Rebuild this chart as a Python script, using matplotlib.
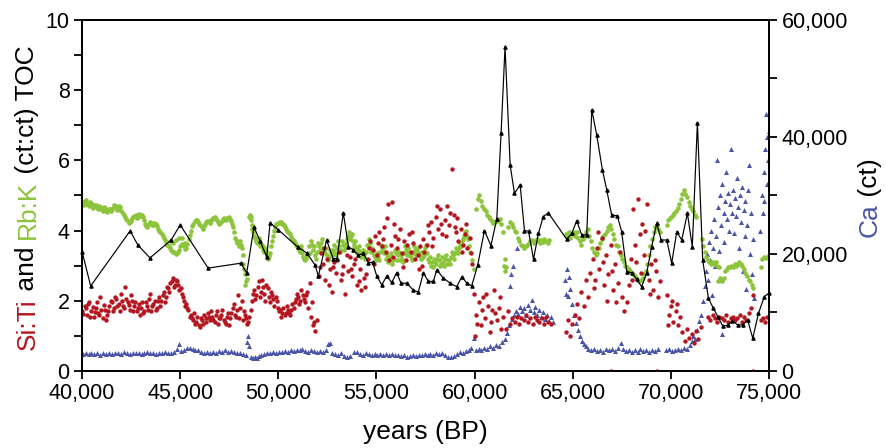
import matplotlib
matplotlib.use('Agg')
import matplotlib.pyplot as plt
from matplotlib.ticker import MultipleLocator, StrMethodFormatter

plt.rcParams['font.family'] = ['Liberation Sans', 'DejaVu Sans']

RED = '#b3161f'
GREEN = '#8cc43c'
BLUE = '#4a55a8'

# TOC (%), black line
toc = [(40000, 3.40), (40440, 2.42), (42450, 3.99), (42840, 3.59), (43460, 3.22), (44540, 3.73),
       (45000, 4.16), (46420, 2.93), (48090, 3.07), (48390, 2.79), (48760, 4.10), (49070, 3.70),
       (49410, 3.25), (49580, 4.22), (50000, 4.02), (50990, 3.53), (51450, 3.36), (51870, 3.02),
       (52040, 2.70), (52460, 3.73), (52790, 3.20), (52990, 3.20), (53310, 4.51), (53570, 3.54),
       (53820, 3.45), (54080, 3.30), (54330, 3.35), (54590, 3.08), (54800, 3.10), (55010, 2.71),
       (55270, 2.45), (55520, 2.70), (55780, 2.52), (56030, 2.80), (56250, 2.50), (56540, 2.50),
       (56880, 2.30), (57130, 2.25), (57390, 2.79), (57650, 2.55), (57900, 2.55), (58070, 2.88),
       (58400, 2.65), (58750, 2.50), (59090, 2.40), (59350, 2.69), (59600, 2.50), (59850, 2.42),
       (60160, 3.02), (60500, 4.00), (60830, 3.57), (61130, 4.33), (61350, 6.79), (61550, 9.24),
       (61810, 5.87), (62030, 5.06), (62320, 5.30), (62540, 4.00), (62750, 3.98), (63000, 3.18),
       (63250, 3.92), (63500, 4.40), (63760, 4.50), (64690, 3.75), (64950, 3.92), (65200, 4.28),
       (65460, 3.87), (65710, 3.88), (65970, 7.44), (66220, 6.72), (66510, 5.73), (66730, 5.16),
       (66980, 4.44), (67270, 4.42), (67490, 3.97), (67750, 2.83), (68000, 2.80), (68260, 2.61),
       (68510, 2.40), (68770, 2.80), (69020, 3.54), (69280, 4.21), (69500, 3.73), (69790, 3.73),
       (70040, 3.07), (70300, 3.97), (70550, 3.73), (70840, 4.49), (71090, 3.54), (71350, 7.07),
       (71620, 3.16), (71910, 2.07), (72160, 1.79), (72390, 1.55), (72640, 1.28), (72890, 1.30),
       (73130, 1.43), (73400, 1.31), (73650, 1.31), (73910, 1.45), (74170, 0.93), (74460, 1.64),
       (74760, 2.12), (75000, 2.22)]

# Si:Ti (ct:ct), red dots
siti = [(40020, 1.72), (40130, 1.85), (40250, 1.60), (40360, 1.95), (40480, 1.70), (40590, 1.55),
        (40700, 1.80), (40820, 1.65), (40930, 2.10), (41050, 1.50), (41160, 1.75), (41280, 1.60),
        (41390, 1.85), (41510, 1.95), (41630, 1.80), (41740, 2.05), (41860, 1.90), (41970, 2.20),
        (42090, 1.85), (42200, 2.40), (42320, 1.95), (42430, 1.75), (42550, 2.00), (42660, 1.85),
        (42780, 1.70), (42890, 1.90), (43010, 1.80), (43120, 1.65), (43240, 1.95), (43350, 1.75),
        (43470, 2.20), (43580, 1.85), (43700, 2.00), (43810, 1.80), (43930, 2.10), (44040, 2.00),
        (44160, 2.25), (44270, 2.10), (44390, 2.35), (44500, 2.50), (44620, 2.65), (44730, 2.45),
        (44850, 2.55), (44960, 2.30), (45080, 2.20), (45190, 2.00), (45310, 1.90), (45420, 1.75),
        (45540, 1.60), (45650, 1.45), (45770, 1.35), (45880, 1.55), (46000, 1.25), (46110, 1.45),
        (46230, 1.60), (46340, 1.40), (46460, 1.55), (46570, 1.70), (46690, 1.45), (46800, 1.60),
        (46920, 1.35), (47030, 1.50), (47150, 1.75), (47260, 1.40), (47380, 1.55), (47490, 1.30),
        (47610, 1.65), (47720, 1.90), (47840, 1.55), (47950, 2.15), (48070, 1.80), (48190, 1.45),
        (48310, 1.60), (48420, 1.35), (48530, 1.55), (48650, 2.00), (48760, 2.30), (48880, 2.15),
        (48990, 2.55), (49110, 2.25), (49220, 2.40), (49340, 2.00), (49450, 2.35), (49570, 1.95),
        (49680, 2.15), (49800, 1.85), (49910, 2.00), (50030, 1.70), (50140, 1.55), (50260, 1.80),
        (50370, 1.65), (50490, 1.75), (50600, 1.60), (50720, 1.90), (50830, 1.95), (50950, 2.20),
        (51060, 1.90), (51180, 2.30), (51290, 2.05), (51410, 2.15), (51520, 1.80), (51600, 2.50),
        (51640, 1.55), (51760, 1.30), (51870, 1.15), (51950, 1.45),
        (52060, 2.70), (52110, 2.95), (52150, 3.35), (52270, 3.05), (52330, 3.50), (52380, 2.60),
        (52500, 3.20), (52560, 2.45), (52610, 2.90), (52730, 2.25), (52780, 2.95), (52840, 3.10),
        (52960, 2.80), (53010, 3.15), (53070, 3.40), (53190, 2.60), (53230, 2.75), (53300, 3.00),
        (53420, 2.20), (53480, 3.30), (53530, 2.85), (53650, 3.25), (53700, 2.90), (53760, 2.70),
        (53880, 3.05), (53930, 3.20), (53990, 2.45), (54110, 2.55), (54170, 2.90), (54230, 2.30),
        (54340, 2.65), (54400, 2.40), (54460, 2.75),
        (54570, 3.20), (54630, 3.50), (54690, 3.70), (54800, 3.45), (54860, 3.05), (54920, 3.85),
        (55030, 3.30), (55090, 3.65), (55150, 3.95), (55260, 3.55), (55320, 3.75), (55380, 4.10),
        (55490, 3.40), (55540, 4.35), (55600, 4.75), (55660, 3.15), (55720, 3.60), (55770, 4.80),
        (55830, 3.25), (55890, 4.20), (55950, 3.85), (56060, 3.50), (56120, 3.75), (56180, 4.05),
        (56290, 3.35), (56350, 2.95), (56410, 3.70), (56520, 3.15), (56580, 3.60), (56640, 3.90),
        (56750, 3.40), (56810, 3.95), (56870, 3.65), (56980, 3.20), (57100, 3.30), (57160, 2.90),
        (57210, 3.55), (57330, 3.00), (57380, 3.75), (57440, 3.40),
        (57560, 3.60), (57620, 4.15), (57670, 3.95), (57790, 4.25), (57850, 3.55), (57900, 3.80),
        (58020, 4.40), (58080, 4.70), (58130, 4.05), (58250, 4.60), (58300, 4.20), (58360, 3.90),
        (58480, 4.30), (58540, 3.85), (58590, 4.70), (58710, 4.15), (58760, 4.50), (58830, 5.75),
        (58940, 4.45), (58990, 4.10), (59060, 3.95), (59120, 4.35), (59170, 3.70), (59290, 4.05),
        (59340, 3.40), (59400, 3.60), (59520, 3.90), (59580, 4.20), (59630, 3.50), (59750, 3.80),
        (59800, 3.35), (59860, 3.05),
        (59970, 2.20), (60010, 1.00), (60080, 1.60), (60140, 1.35), (60200, 1.95), (60310, 1.30),
        (60370, 1.75), (60430, 2.10), (60540, 1.50), (60600, 2.20), (60660, 1.85), (60770, 1.10),
        (60830, 1.40), (60890, 1.75), (61000, 2.30), (61060, 1.65), (61120, 1.45), (61230, 1.80),
        (61290, 2.10), (61350, 1.20), (61460, 1.55), (61580, 1.20), (61690, 1.70), (61810, 1.35),
        (61920, 1.50), (62040, 1.40), (62150, 1.55), (62270, 1.35), (62380, 1.50), (62500, 1.45),
        (62610, 1.60), (62730, 1.40), (62840, 1.50), (62960, 1.35), (63070, 1.55), (63190, 1.45),
        (63300, 1.40), (63420, 1.50), (63530, 1.35), (63650, 1.55), (63760, 1.40), (63880, 1.35),
        (64640, 1.10), (64750, 1.45), (64870, 1.00), (64980, 1.35), (65090, 1.60), (65210, 1.90),
        (65320, 1.50), (65440, 2.25), (65550, 1.85), (65670, 2.60), (65780, 2.10), (65900, 2.80),
        (66010, 3.20), (66070, 2.35), (66130, 2.60), (66240, 3.50), (66300, 3.95), (66360, 2.90),
        (66470, 3.80), (66530, 3.10), (66590, 2.45), (66700, 3.30), (66760, 2.00), (66820, 2.75),
        (66930, 3.60), (66990, 2.85), (67050, 2.30), (67160, 3.05), (67220, 1.95), (67280, 2.50),
        (67390, 3.40), (67510, 2.10), (67620, 1.70), (67740, 1.95), (67850, 2.45),
        (67960, 3.20), (68010, 2.60), (68070, 4.60), (68190, 3.60), (68240, 3.10), (68300, 4.90),
        (68420, 3.90), (68470, 2.80), (68530, 4.20), (68650, 3.30), (68700, 4.00), (68760, 4.75),
        (68880, 2.60), (68940, 2.20), (68990, 3.05), (69110, 2.30), (69170, 3.15), (69220, 2.85),
        (69340, 2.10), (69450, 2.55),
        (69790, 2.15), (69850, 1.30), (69900, 1.60), (70020, 1.85), (70080, 2.00), (70130, 1.40),
        (70250, 1.70), (70300, 1.90), (70360, 1.30), (70480, 1.55), (70590, 1.10), (70710, 0.85),
        (70820, 1.20), (70940, 0.95), (71050, 1.05), (71170, 0.80), (71280, 1.15), (71400, 0.90),
        (71510, 1.25),
        (71890, 1.55), (72010, 1.45), (72120, 1.60), (72240, 1.50), (72350, 1.40), (72470, 1.55),
        (72580, 1.50), (72700, 1.45), (72810, 1.60), (72930, 1.40), (73040, 1.50), (73160, 1.55),
        (73270, 1.45), (73390, 1.50), (73500, 1.60), (73620, 1.40), (73730, 1.55), (73850, 1.45),
        (73960, 1.65), (74080, 1.80), (74190, 2.15), (74570, 1.45), (74680, 1.50), (74800, 1.40),
        (74910, 1.55), (66950, 0.0), (69300, 0.0), (74180, 0.0)]

# more Si:Ti readings in the dense 40-52 ka stretch
siti_b = [(40070, 1.62), (40190, 1.78), (40310, 1.90), (40420, 1.55), (40540, 1.82), (40650, 1.68),
          (40760, 1.95), (40870, 1.58), (40990, 1.75), (41100, 1.88), (41220, 1.45), (41340, 1.70),
          (41450, 2.00), (41570, 1.72), (41690, 2.10), (41800, 1.85), (41920, 1.70), (42030, 2.00),
          (42150, 1.78), (42260, 2.05), (42380, 1.88), (42490, 2.15), (42610, 1.70), (42720, 1.95),
          (42840, 1.80), (42950, 1.60), (43070, 1.95), (43180, 1.72), (43300, 1.85), (43410, 2.05),
          (43530, 1.70), (43640, 1.92), (43760, 1.75), (43870, 2.00), (43990, 1.85), (44100, 2.15),
          (44220, 1.95), (44330, 2.40), (44450, 2.25), (44560, 2.55), (44680, 2.40), (44790, 2.60),
          (44910, 2.45), (45020, 2.35), (45140, 2.10), (45250, 1.85), (45370, 1.80), (45480, 1.55),
          (45600, 1.50), (45710, 1.65), (45830, 1.40), (45940, 1.30), (46060, 1.50), (46170, 1.35),
          (46290, 1.50), (46400, 1.65), (46520, 1.45), (46630, 1.55), (46750, 1.40), (46860, 1.70),
          (46980, 1.50), (47090, 1.60), (47210, 1.45), (47320, 1.35), (47440, 1.65), (47550, 1.50),
          (47670, 1.80), (47780, 1.60), (47900, 1.75), (48010, 1.50), (48130, 2.00), (48250, 1.70),
          (48360, 1.50), (48480, 1.40), (48590, 1.75), (48710, 2.20), (48820, 2.05), (48940, 2.40),
          (49050, 2.10), (49170, 2.60), (49280, 2.20), (49390, 2.45), (49510, 2.10), (49630, 2.25),
          (49740, 2.05), (49860, 2.10), (49970, 1.80), (50090, 1.75), (50200, 1.65), (50320, 1.60),
          (50430, 1.85), (50550, 1.65), (50660, 1.75), (50780, 1.80), (50890, 2.05), (51010, 2.10),
          (51120, 2.00), (51240, 2.15), (51350, 1.95), (51470, 2.25), (51700, 1.95), (51820, 1.40)]

# Rb:K (ct:ct), green dots
rbk = [(40030, 4.80), (40150, 4.85), (40270, 4.75), (40390, 4.82), (40510, 4.70), (40630, 4.74),
       (40750, 4.66), (40870, 4.70), (40990, 4.62), (41110, 4.66), (41230, 4.58), (41350, 4.62),
       (41470, 4.55), (41590, 4.65), (41710, 4.70), (41830, 4.62), (41950, 4.66), (42070, 4.50),
       (42190, 4.38), (42310, 4.30), (42430, 4.24), (42550, 4.35), (42670, 4.42), (42790, 4.36),
       (42910, 4.48), (43030, 4.45), (43150, 4.30), (43270, 4.12), (43390, 4.18), (43510, 4.22),
       (43630, 4.15), (43750, 4.20), (43870, 4.05), (43990, 3.95), (44110, 3.85), (44230, 3.72),
       (44350, 3.60), (44470, 3.50), (44590, 3.42), (44710, 3.38), (44830, 3.35), (44950, 3.45),
       (45070, 3.62), (45190, 3.55), (45310, 3.50), (45430, 3.75), (44500, 3.70), (44650, 3.65),
       (44800, 3.72), (44950, 3.80), (45100, 3.78), (45250, 3.65),
       (45550, 4.00), (45670, 4.20), (45790, 4.30), (45910, 4.25), (46030, 4.15), (46150, 4.05),
       (46270, 4.18), (46390, 4.28), (46510, 4.22), (46630, 4.32), (46750, 4.38), (46870, 4.30),
       (46990, 4.20), (47110, 4.28), (47230, 4.35), (47350, 4.30), (47470, 4.38), (47590, 4.28),
       (47710, 4.10), (47800, 3.80), (47900, 3.65), (47980, 3.55), (48060, 3.70), (48140, 3.50),
       (48220, 3.05), (48280, 2.75), (48300, 2.45), (48340, 2.55), (48400, 2.62),
       (48560, 4.45), (48620, 4.30), (48680, 4.05), (48760, 3.85), (48840, 3.75), (48920, 3.65),
       (49000, 3.80), (49080, 3.55), (49160, 3.60), (49240, 3.45), (49320, 3.50), (49400, 3.30),
       (49480, 3.20), (49560, 3.35), (49680, 3.70), (49780, 4.00), (49880, 4.18), (49980, 4.22),
       (50080, 4.25), (50180, 4.20), (50280, 4.15), (50380, 4.05), (50480, 3.95), (50580, 3.90),
       (50680, 3.75), (50780, 3.70), (50880, 3.60), (50980, 3.50), (51080, 3.40), (51180, 3.55),
       (51280, 3.25), (51380, 3.15), (51480, 3.30),
       (51580, 3.55), (51680, 3.70), (51780, 3.45), (51880, 3.30), (51980, 3.40), (52080, 3.55),
       (52180, 3.65), (52280, 3.50), (52380, 3.35), (52480, 3.30), (52580, 3.25), (52680, 3.40),
       (52780, 3.45), (52880, 3.35), (52980, 3.50), (53080, 3.55), (53180, 3.45), (53280, 3.60),
       (53380, 3.55), (53480, 3.75), (53580, 3.95), (53680, 3.85), (53780, 3.70), (53880, 3.60),
       (53980, 3.50), (54080, 3.45), (54180, 3.40), (54280, 3.35), (54380, 3.30), (54480, 3.40),
       (54580, 3.55), (54680, 3.65), (54780, 3.50), (54880, 3.30), (54980, 3.15), (55080, 3.25),
       (55180, 3.40), (55280, 3.50), (55380, 3.35), (55480, 3.20), (55580, 3.10), (55680, 3.25),
       (55780, 3.05), (55880, 3.20), (55980, 3.35), (56080, 3.30), (56180, 3.15), (56280, 3.20),
       (56380, 3.35), (56480, 3.45), (56580, 3.40), (56680, 3.30), (56780, 3.25), (56880, 3.35),
       (56980, 3.45), (57080, 3.40), (57180, 3.30), (57280, 3.20), (57380, 3.25), (57480, 3.50),
       (57580, 3.35), (57680, 3.10), (57780, 3.00), (57880, 2.95), (57980, 3.10), (58080, 3.20),
       (58180, 3.15), (58280, 3.05), (58380, 3.10), (58480, 3.20), (58580, 3.05), (58680, 3.15),
       (58780, 3.25), (58880, 3.30), (58980, 3.35), (59080, 3.45), (59180, 3.50), (59280, 3.60),
       (59380, 3.70), (59480, 3.85), (59580, 4.00), (59680, 3.75), (59780, 3.40), (59880, 3.15),
       (59950, 2.90),
       (60080, 4.60), (60160, 4.90), (60240, 5.02), (60320, 4.85), (60400, 4.70), (60480, 4.62),
       (60560, 4.55), (60640, 4.45), (60720, 4.38), (60800, 4.32), (60880, 4.28), (60960, 4.22),
       (61040, 4.25), (61120, 4.30), (61200, 4.28), (61280, 4.32), (61360, 4.20), (61440, 3.95),
       (61520, 3.00), (61540, 3.20), (61560, 2.85), (61600, 2.95),
       (61720, 4.10), (61800, 4.25), (61880, 4.20), (61960, 4.10), (62040, 4.00), (62120, 3.95),
       (62200, 3.80), (62280, 3.70), (62360, 3.60), (62440, 3.55), (62520, 3.50), (62600, 3.55),
       (62680, 3.60), (62760, 3.65), (62840, 3.70), (62920, 3.72), (63000, 3.65), (63080, 3.70),
       (63160, 3.75), (63240, 3.70), (63320, 3.65), (63400, 3.72), (63480, 3.68), (63560, 3.75),
       (63640, 3.70), (63720, 3.65), (63800, 3.72),
       (64640, 3.90), (64720, 3.85), (64800, 3.95), (64880, 3.80), (64960, 3.90), (65040, 3.95),
       (65120, 3.85), (65200, 3.95), (65280, 3.80), (65360, 3.70), (65440, 3.60), (65520, 3.75),
       (65600, 3.85), (65680, 3.95), (65760, 4.05), (65840, 3.85), (65920, 3.70), (66000, 3.50),
       (66080, 3.40), (66160, 3.30), (66240, 3.35), (66320, 3.50), (66400, 3.65), (66480, 3.75),
       (66560, 3.85), (66640, 3.90), (66720, 4.00), (66800, 4.10), (66880, 4.15), (66960, 4.05),
       (67040, 3.90), (67120, 3.75), (67200, 3.60), (67280, 3.55), (67360, 3.40), (67440, 3.30),
       (67520, 3.20), (67600, 3.10), (67680, 3.00), (67760, 2.95), (67840, 2.90), (67920, 2.85),
       (68000, 2.80), (68080, 2.75), (68160, 2.70), (68240, 2.65), (68320, 2.60), (68400, 2.55),
       (68480, 2.60), (68560, 2.65), (68640, 2.75), (68720, 2.85), (68800, 3.05), (68880, 3.30),
       (68960, 3.55), (69040, 3.75), (69120, 3.95), (69200, 4.10), (69280, 4.15), (69360, 4.05),
       (69440, 3.95),
       (69780, 4.15), (69860, 4.30), (69940, 4.35), (70020, 4.40), (70100, 4.45), (70180, 4.50),
       (70260, 4.55), (70340, 4.65), (70420, 4.75), (70500, 4.90), (70580, 5.05), (70660, 5.15),
       (70740, 5.05), (70820, 4.95), (70900, 4.80), (70980, 4.70), (71060, 4.60), (71140, 4.55),
       (71220, 4.45), (71300, 4.40),
       (71560, 3.75), (71640, 3.55), (71720, 3.40), (71800, 3.25), (71880, 3.15), (71960, 3.10),
       (72040, 3.05), (72120, 3.10), (72200, 3.05), (72280, 3.10), (72360, 3.00), (72420, 2.55),
       (72440, 2.95), (72480, 2.65), (72520, 2.60), (72600, 2.55), (72680, 2.65), (72760, 2.85),
       (72840, 2.90), (72920, 2.95), (73000, 2.95), (73080, 3.00), (73160, 2.95), (73240, 3.05),
       (73320, 3.00), (73400, 3.05), (73480, 3.10), (73560, 3.05), (73640, 3.00), (73720, 2.90),
       (73800, 2.80), (73880, 2.70), (73960, 2.60), (74040, 2.55), (74120, 2.45), (74200, 2.35),
       (74580, 2.95), (74660, 3.20), (74740, 3.25), (74820, 3.22), (74900, 3.25), (74980, 3.30)]

# more Rb:K readings, 40-60 ka
rbk_b = [(40090, 4.74), (40210, 4.88), (40330, 4.70), (40450, 4.78), (40570, 4.65), (40690, 4.72),
         (40810, 4.60), (40930, 4.68), (41050, 4.56), (41170, 4.64), (41290, 4.52), (41410, 4.60),
         (41530, 4.60), (41650, 4.72), (41770, 4.58), (41890, 4.70), (42010, 4.56), (42130, 4.45),
         (42250, 4.32), (42370, 4.22), (42490, 4.28), (42610, 4.40), (42730, 4.45), (42850, 4.40),
         (42970, 4.42), (43090, 4.38), (43210, 4.20), (43330, 4.10), (43450, 4.25), (43570, 4.16),
         (43690, 4.22), (43810, 4.12), (43930, 4.00), (44050, 3.90), (44170, 3.78), (44290, 3.66),
         (44410, 3.55), (44530, 3.45), (44650, 3.40), (44770, 3.32), (44890, 3.40), (45010, 3.55),
         (45130, 3.60), (45250, 3.48), (45370, 3.62), (45490, 3.88), (45610, 4.12), (45730, 4.26),
         (45850, 4.30), (45970, 4.20), (46090, 4.10), (46210, 4.12), (46330, 4.24), (46450, 4.26),
         (46570, 4.28), (46690, 4.36), (46810, 4.34), (46930, 4.24), (47050, 4.22), (47170, 4.32),
         (47290, 4.34), (47410, 4.36), (47530, 4.32), (47650, 4.20), (47750, 3.95), (47850, 3.72),
         (48110, 3.60), (48180, 3.30), (48250, 2.90), (48500, 4.40), (48590, 4.38), (48650, 4.15),
         (48720, 3.95), (48800, 3.80), (48880, 3.70), (48960, 3.72), (49040, 3.68), (49120, 3.58),
         (49200, 3.52), (49280, 3.40), (49360, 3.42), (49440, 3.25), (49520, 3.28), (49620, 3.55),
         (49730, 3.85), (49830, 4.10), (49930, 4.20), (50030, 4.22), (50130, 4.24), (50230, 4.18),
         (50330, 4.10), (50430, 4.00), (50530, 3.92), (50630, 3.82), (50730, 3.72), (50830, 3.65),
         (50930, 3.55), (51030, 3.45), (51130, 3.48), (51230, 3.35), (51330, 3.20), (51430, 3.22),
         (51630, 3.35), (51730, 3.60), (51830, 3.55), (51930, 3.20), (52030, 3.65), (52130, 3.45),
         (52230, 3.75), (52330, 3.40), (52430, 3.50), (52530, 3.15), (52630, 3.45), (52730, 3.30),
         (52830, 3.60), (52930, 3.30), (53030, 3.70), (53130, 3.40), (53230, 3.70), (53330, 3.45),
         (53430, 3.65), (53530, 3.85), (53630, 3.75), (53730, 3.90), (53830, 3.50), (53930, 3.70),
         (54030, 3.35), (54130, 3.55), (54230, 3.25), (54330, 3.45), (54430, 3.20), (54530, 3.60),
         (54630, 3.75), (54730, 3.40), (54830, 3.45), (54930, 3.25), (55030, 3.35), (55130, 3.15),
         (55230, 3.60), (55330, 3.45), (55430, 3.55), (55530, 3.30), (55630, 3.20), (55730, 3.35),
         (55830, 3.15), (55930, 3.45), (56030, 3.15), (56130, 3.40), (56230, 3.30), (56330, 3.10),
         (56430, 3.55), (56530, 3.30), (56630, 3.50), (56730, 3.40), (56830, 3.15), (56930, 3.55),
         (57030, 3.30), (57130, 3.50), (57230, 3.35), (57330, 3.40), (57430, 3.30), (57530, 3.60),
         (57630, 3.20), (57730, 3.25), (57830, 3.10), (57930, 3.20), (58030, 3.05), (58130, 3.30),
         (58230, 3.00), (58330, 3.25), (58430, 3.00), (58530, 3.30), (58630, 3.15), (58730, 3.05),
         (58830, 3.40), (58930, 3.20), (59030, 3.50), (59130, 3.35), (59230, 3.65), (59330, 3.55),
         (59430, 3.75), (59530, 3.95), (59630, 3.85), (59730, 3.55)]

# Ca (ct), blue triangles, right axis
ca = [(40030, 2900), (40180, 3050), (40330, 2850), (40480, 3000), (40630, 2950), (40780, 3100),
      (40930, 2800), (41080, 3000), (41230, 2900), (41380, 3050), (41530, 2850), (41680, 3000),
      (41830, 3100), (41980, 2950), (42130, 3200), (42280, 3000), (42430, 2900), (42580, 3100),
      (42730, 3000), (42880, 3150), (43030, 2950), (43180, 3050), (43330, 3200), (43480, 3000),
      (43630, 3100), (43780, 2950), (43930, 3150), (44080, 3050), (44230, 3200), (44380, 3000),
      (44530, 3150), (44680, 3250), (44850, 3800), (44920, 4600), (45030, 3400), (45180, 3600),
      (45330, 3850), (45480, 3950), (45630, 3700), (45780, 3500), (45930, 3600), (46080, 3300),
      (46230, 3150), (46380, 3250), (46530, 3050), (46680, 3200), (46830, 3100), (46980, 3350),
      (47130, 3200), (47280, 3500), (47430, 3250), (47580, 3400), (47730, 3300), (47880, 3100),
      (48030, 3050), (48180, 2950), (48330, 2800), (48420, 5000), (48470, 5900), (48520, 4300),
      (48600, 2400), (48700, 2150), (48800, 2300), (48900, 2200), (49000, 2500), (49130, 2700),
      (49280, 2900), (49430, 3100), (49580, 3000), (49730, 3200), (49880, 3100), (50030, 3300),
      (50180, 3200), (50330, 3400), (50480, 3300), (50630, 3500), (50780, 3400), (50930, 3600),
      (51080, 3500), (51230, 3700), (51380, 3400), (51530, 3300), (51680, 3500), (51830, 3350),
      (51980, 3200), (52130, 3400), (52280, 3300), (52430, 3500), (52530, 4600), (52640, 4700),
      (52750, 3100), (52900, 2900), (53050, 2800), (53200, 3000), (53350, 2600), (53500, 2450),
      (53650, 2600), (53850, 3200), (54000, 3300), (54150, 2900), (54300, 2800), (54450, 3000),
      (54600, 2900), (54750, 2750), (54900, 2900), (55050, 2800), (55200, 2950), (55350, 2700),
      (55500, 2850), (55650, 2750), (55800, 2900), (55950, 2650), (56100, 2800), (56250, 2550),
      (56400, 2700), (56550, 2450), (56700, 2600), (56850, 2750), (57000, 2600), (57150, 2800),
      (57300, 2700), (57450, 2900), (57600, 2750), (57750, 2950), (57900, 2800), (58050, 3000),
      (58200, 2850), (58350, 3050), (58500, 2700), (58650, 2400), (58800, 2300), (58950, 2600),
      (59100, 2900), (59250, 3200), (59400, 3000), (59550, 3400), (59700, 3600), (59820, 3900),
      (59950, 5700), (60050, 3500), (60200, 3700), (60350, 3600), (60500, 3900), (60650, 3800),
      (60800, 4200), (60950, 4000), (61100, 4500), (61250, 4300), (61400, 5000), (61550, 5400),
      (61650, 6500), (61750, 7800), (61800, 14500), (61850, 16500), (61900, 8800), (61950, 18000),
      (62000, 9500), (62100, 10300), (62150, 21000), (62200, 9800), (62300, 11000), (62400, 10200),
      (62500, 10800), (62600, 9600), (62700, 11300), (62800, 10500), (62910, 12200), (63000, 10000),
      (63100, 11000), (63200, 9500), (63300, 10400), (63400, 9200), (63500, 10000), (63600, 8800),
      (63700, 9600), (63800, 8500), (63900, 9300), (64000, 8400),
      (64620, 15500), (64680, 13200), (64720, 17500), (64780, 12800), (64830, 16000), (64880, 14000),
      (64950, 11500), (65050, 9500), (65150, 8200), (65250, 7000), (65350, 6000), (65450, 5200),
      (65550, 4600), (65650, 4200), (65800, 3800), (65950, 3500), (66100, 3700), (66250, 3400),
      (66400, 3600), (66550, 3300), (66700, 3800), (66850, 3500), (67000, 3700), (67150, 3400),
      (67300, 3900), (67450, 4800), (67550, 3700), (67700, 3400), (67850, 3600), (68000, 3300),
      (68150, 3500), (68300, 3200), (68450, 3800), (68600, 3400), (68750, 3600), (68900, 3300),
      (69050, 3500), (69200, 3400), (69350, 3700),
      (69750, 3500), (69900, 3700), (70050, 3400), (70200, 3600), (70350, 3800), (70500, 3500),
      (70650, 4000), (70800, 3700), (70950, 4500), (71050, 5200), (71150, 6000), (71250, 5500),
      (71350, 7000), (71450, 8500), (71550, 9500), (71650, 12000), (71750, 14500), (71800, 17000),
      (71850, 20000), (71900, 15500), (71950, 22000), (72000, 19000), (72050, 24000), (72100, 13000),
      (72150, 21000), (72200, 26000), (72250, 18000), (72300, 23000), (72340, 36000), (72400, 28000),
      (72450, 20500), (72500, 30000), (72550, 25000), (72600, 6300), (72620, 32000), (72680, 27000),
      (72720, 22000), (72780, 29000), (72820, 34000), (72860, 26000), (72900, 30500), (72950, 24000),
      (73000, 28500), (73070, 38000), (73100, 27000), (73150, 31000), (73200, 23500), (73250, 29500),
      (73300, 26500), (73350, 33000), (73400, 28000), (73450, 21000), (73500, 30000), (73550, 25500),
      (73600, 31500), (73650, 17000), (73700, 27500), (73750, 23000), (73800, 29000), (73850, 14000),
      (73900, 25000), (73950, 31000), (74000, 35200), (74050, 20000), (74100, 27000), (74150, 16500),
      (74200, 22500), (74250, 12500),
      (74560, 24000), (74620, 30000), (74680, 27000), (74720, 34000), (74760, 29000), (74800, 38000),
      (74850, 44000), (74880, 32000), (74920, 40000), (74960, 36000), (75000, 41000)]

fig = plt.figure(figsize=(8.86, 4.48), dpi=100)
ax = fig.add_axes([0.0926, 0.172, 0.7754, 0.7835])
ax2 = ax.twinx()
ax.set_zorder(ax2.get_zorder() + 1)
ax.patch.set_visible(False)

cx, cy = zip(*ca)
ax2.scatter(cx, cy, s=13, c=BLUE, marker='^', linewidths=0)

gx, gy = zip(*(rbk + rbk_b))
ax.scatter(gx, gy, s=11, c=GREEN, marker='o', linewidths=0)
sx, sy = zip(*(siti + siti_b))
ax.scatter(sx, sy, s=10, c=RED, marker='o', linewidths=0)
tx, ty = zip(*toc)
ax.plot(tx, ty, color='black', lw=0.85, marker='^', ms=2.3, clip_on=False)

ax.set_xlim(40000, 75000)
ax.set_xticks(range(40000, 75001, 5000))
ax.xaxis.set_major_formatter(StrMethodFormatter('{x:,.0f}'))
ax.set_ylim(0, 10)
ax.yaxis.set_major_locator(MultipleLocator(2))
ax.yaxis.set_minor_locator(MultipleLocator(1))
ax2.set_ylim(0, 60000)
ax2.yaxis.set_major_locator(MultipleLocator(20000))
ax2.yaxis.set_minor_locator(MultipleLocator(10000))
ax2.yaxis.set_major_formatter(StrMethodFormatter('{x:,.0f}'))

for a in (ax, ax2):
    a.tick_params(which='both', direction='out', length=6, width=1.3, labelsize=15.5, pad=3)
    for sp in a.spines.values():
        sp.set_linewidth(1.3)


# multi-coloured axis labels: each piece sits on top of the previous one
def stacked_label(x, y, pieces, size):
    t = fig.text(x, y, pieces[0][0], color=pieces[0][1], rotation=90,
                 ha='center', va='bottom', fontsize=size)
    for s, c in pieces[1:]:
        t = ax.annotate(s, xycoords=t, xy=(0, 1), ha='left', va='bottom',
                        rotation=90, color=c, fontsize=size, annotation_clip=False)


stacked_label(0.031, 0.219, [('Si:Ti', RED), (' and ', 'black'), ('Rb:K', GREEN),
                             (' (ct:ct) TOC', 'black')], 19)
stacked_label(0.982, 0.47, [('Ca', BLUE), (' (ct)', 'black')], 19)

fig.text(0.48, 0.035, 'years (BP)', ha='center', va='center', fontsize=19)

fig.savefig('out.png', dpi=100)
